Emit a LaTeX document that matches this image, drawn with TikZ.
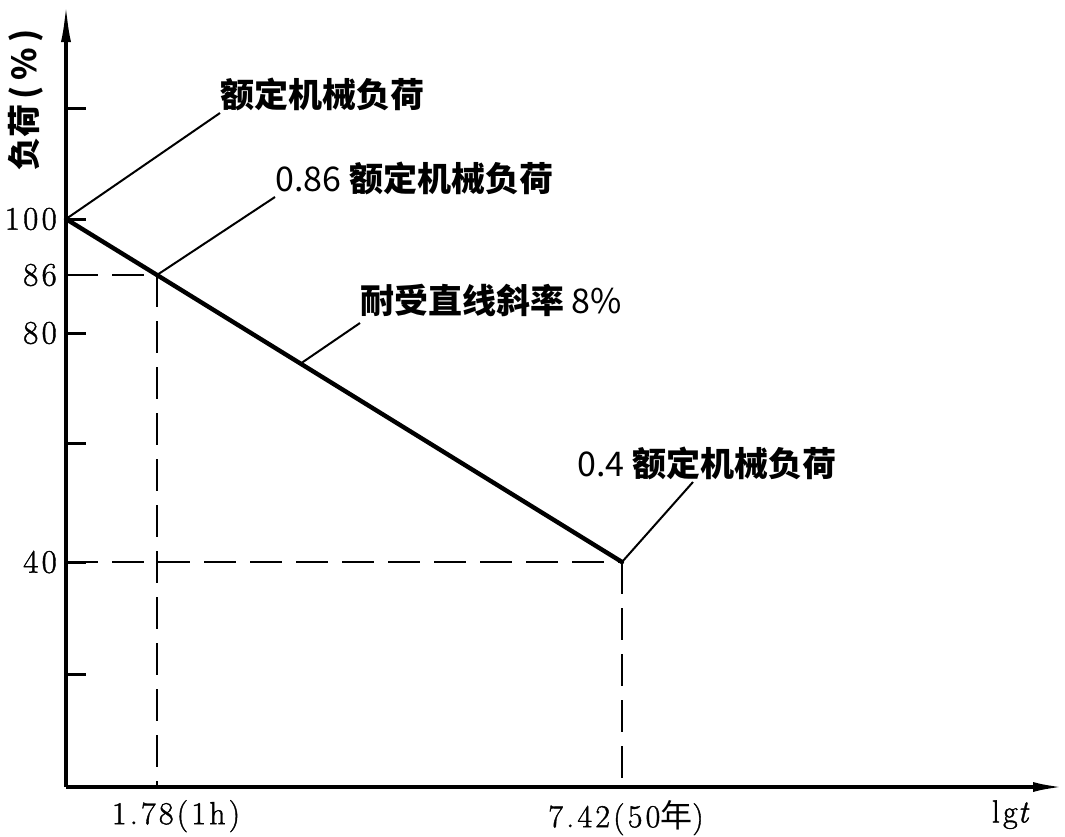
\documentclass[tikz,border=0pt]{standalone}
\usepackage{fontspec}
\usetikzlibrary{arrows.meta}
\newfontfamily\cjk{Noto Sans CJK SC}
\newfontfamily\numfont[LetterSpace=10,FakeBold=1.2]{Latin Modern Roman}
\tikzset{
  axis/.style={line width=3.2pt},
  curve/.style={line width=4.4pt, line cap=round, line join=round},
  leader/.style={line width=2pt},
  guide/.style={line width=2.8pt, dash pattern=on 32pt off 14pt},
  tickmark/.style={line width=3pt},
  cjklab/.style={inner sep=0pt, anchor=west, font=\cjk\bfseries\fontsize{34}{36}\selectfont},
  ticklab/.style={inner sep=0pt, anchor=east, font=\numfont\fontsize{33}{35}\selectfont},
  xlab/.style={inner sep=0pt, anchor=north, font=\numfont\fontsize{32}{34}\selectfont},
}
\begin{document}
\begin{tikzpicture}[x=1pt,y=-1pt]
\useasboundingbox (0,0) rectangle (1065,836);
% key points
\coordinate (O) at (66,787);
\coordinate (ytop) at (66,4);
\coordinate (xend) at (1063,787);
\coordinate (P100) at (66,219);
\coordinate (P86) at (157,275);
\coordinate (P40) at (622,562);
\coordinate (M) at (300,364);
\coordinate (Y86) at (66,275);
\coordinate (Y40) at (66,562);
\coordinate (X178) at (157,787);
\coordinate (X742) at (622,787);
\coordinate (L1) at (220,113);
\coordinate (L2) at (275,197);
\coordinate (L3) at (360,323);
\coordinate (L4) at (693,482);
% dashed guides
\draw[guide] (Y86) -- (P86);
\draw[guide] (P86) -- (X178);
\draw[guide] (Y40) -- (P40);
\draw[guide] (P40) -- (X742);
% axes
\draw[axis,-{Latex[length=38pt,width=10pt]}] (O) -- (ytop);
\draw[axis,-{Latex[length=30pt,width=10pt]}] (O) -- (xend);
% ticks
\foreach \yy in {108,219,333,443,562,674}{
  \draw[tickmark] (66,\yy) -- (86,\yy);
}
% main line
\draw[curve] (P100) -- (P86) -- (P40);
% leaders
\draw[leader] (P100) -- (L1);
\draw[leader] (P86) -- (L2);
\draw[leader] (M) -- (L3);
\draw[leader] (P40) -- (L4);
% labels
\node[cjklab] (t1) at (220,94) {额定机械负荷};
\node[cjklab] (t2) at (275,178) {{\mdseries 0.86} 额定机械负荷};
\node[cjklab] (t3) at (360,300) {耐受直线斜率 {\mdseries 8\%}};
\node[cjklab] (t4) at (577,463) {{\mdseries 0.4} 额定机械负荷};
% tick labels
\node[ticklab] (n100) at (57,219) {100};
\node[ticklab] (n86) at (57,275) {86};
\node[ticklab] (n80) at (57,333) {80};
\node[ticklab] (n40) at (57,562) {40};
% x labels
\node[xlab] (x1) at (176,800) {1.78(1h)};
\node[xlab] (x2) at (626,800) {7.42(50{\cjk 年})};
\node[xlab] (x3) at (1010,800) {lg{\itshape t}};
% y label
\node[inner sep=0pt, rotate=90, font=\cjk\bfseries\fontsize{33}{35}\selectfont] (yl) at (26,100) {负荷\,(\,\%\,)};
\end{tikzpicture}
\end{document}
